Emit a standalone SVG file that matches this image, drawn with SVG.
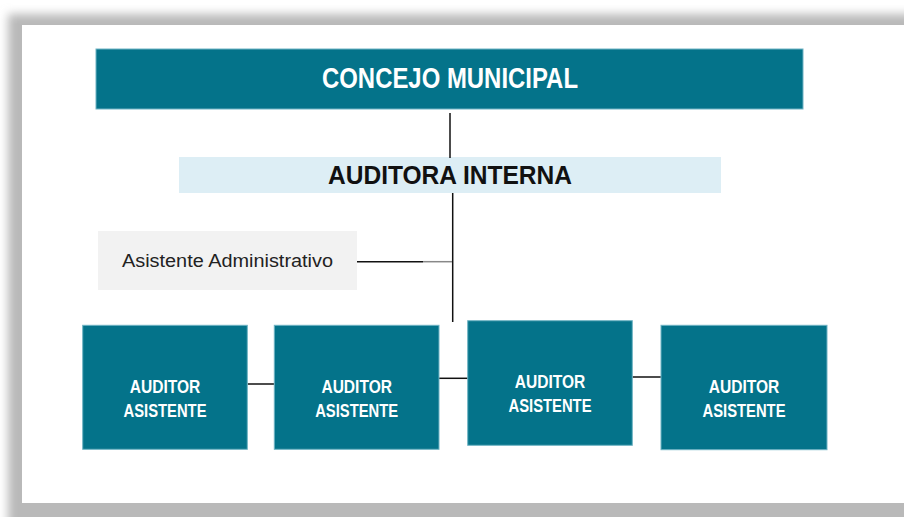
<svg xmlns="http://www.w3.org/2000/svg" width="904" height="517" viewBox="0 0 904 517">
  <style>
    .teal { fill: #04738a; stroke: #6fb3c4; stroke-width: 1; }
    .wt { font-family: "Liberation Sans", Arial, sans-serif; font-weight: bold; fill: #ffffff; text-anchor: middle; }
    .bt { font-family: "Liberation Sans", Arial, sans-serif; font-weight: bold; fill: #111111; text-anchor: middle; }
    .lt { font-family: "Liberation Sans", Arial, sans-serif; fill: #222222; }
    .conn line { stroke: #111111; stroke-width: 1.5; }
  </style>
  <defs>
    <filter id="sh" x="-10%" y="-10%" width="120%" height="120%">
      <feGaussianBlur stdDeviation="5"/>
    </filter>
  </defs>
  <rect x="0" y="0" width="904" height="517" fill="#ffffff"/>
  <rect x="8" y="14" width="1000" height="540" fill="#b9b9b9" filter="url(#sh)"/>
  <rect x="22" y="25" width="882" height="478" fill="#ffffff"/>

  <g id="concejo">
    <rect class="teal" x="96" y="49" width="707" height="60"/>
    <text class="wt" x="450" y="87.5" font-size="29" textLength="256" lengthAdjust="spacingAndGlyphs">CONCEJO MUNICIPAL</text>
  </g>
  <g id="auditora">
    <rect x="179" y="157" width="542" height="36" fill="#ddeef5"/>
    <text class="bt" x="450" y="183.5" font-size="26.5" textLength="244" lengthAdjust="spacingAndGlyphs">AUDITORA INTERNA</text>
  </g>
  <g id="asistente-admin">
    <rect x="98" y="231" width="259" height="59" fill="#f2f2f2"/>
    <text class="lt" x="122" y="266.5" font-size="17.5" textLength="211" lengthAdjust="spacingAndGlyphs">Asistente Administrativo</text>
  </g>

  <g class="conn" id="connectors">
    <line x1="450" y1="113" x2="450" y2="158"/>
    <line x1="452.7" y1="193" x2="452.7" y2="322"/>
    <line x1="357" y1="261.7" x2="423" y2="261.7"/>
    <line x1="423" y1="261.7" x2="452" y2="261.7" style="stroke:#888888"/>
    <line x1="247.5" y1="384" x2="274.5" y2="384"/>
    <line x1="439" y1="378.3" x2="468" y2="378.3"/>
    <line x1="632.3" y1="377" x2="661" y2="377"/>
  </g>

  <g id="auditor1">
    <rect class="teal" x="82.7" y="325.3" width="164.6" height="124"/>
    <text class="wt" x="165" y="392.7" font-size="18" textLength="70.6" lengthAdjust="spacingAndGlyphs">AUDITOR</text>
    <text class="wt" x="165" y="416.7" font-size="18" textLength="83" lengthAdjust="spacingAndGlyphs">ASISTENTE</text>
  </g>
  <g id="auditor2">
    <rect class="teal" x="274.3" y="325.3" width="164.7" height="124"/>
    <text class="wt" x="356.7" y="392.7" font-size="18" textLength="70.6" lengthAdjust="spacingAndGlyphs">AUDITOR</text>
    <text class="wt" x="356.7" y="416.7" font-size="18" textLength="83" lengthAdjust="spacingAndGlyphs">ASISTENTE</text>
  </g>
  <g id="auditor3">
    <rect class="teal" x="467.7" y="320.7" width="164.6" height="124.6"/>
    <text class="wt" x="550" y="388" font-size="18" textLength="70.6" lengthAdjust="spacingAndGlyphs">AUDITOR</text>
    <text class="wt" x="550" y="412" font-size="18" textLength="83" lengthAdjust="spacingAndGlyphs">ASISTENTE</text>
  </g>
  <g id="auditor4">
    <rect class="teal" x="661" y="325.3" width="166" height="124.4"/>
    <text class="wt" x="744" y="392.7" font-size="18" textLength="70.6" lengthAdjust="spacingAndGlyphs">AUDITOR</text>
    <text class="wt" x="744" y="416.7" font-size="18" textLength="83" lengthAdjust="spacingAndGlyphs">ASISTENTE</text>
  </g>
</svg>
